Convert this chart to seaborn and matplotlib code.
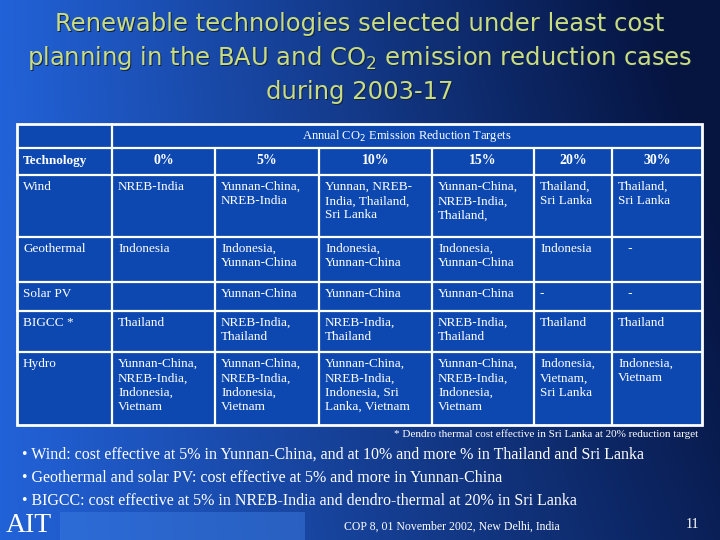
import numpy as np
import matplotlib
matplotlib.use("Agg")
import matplotlib.pyplot as plt
import seaborn as sns
from matplotlib.patches import Rectangle

sns.set_theme(style="white")
plt.rcParams['font.family'] = ['Liberation Serif', 'DejaVu Serif']

title_lines = ["Renewable technologies selected under least cost",
               "planning in the BAU and CO$_2$ emission reduction cases",
               "during 2003-17"]
header_top = "Annual CO$_2$ Emission Reduction Targets"
columns = ["Technology", "0%", "5%", "10%", "15%", "20%", "30%"]
technologies = ["Wind", "Geothermal", "Solar PV", "BIGCC *", "Hydro"]
cells = [
    ["NREB-India", "Yunnan-China,\nNREB-India", "Yunnan, NREB-\nIndia, Thailand,\nSri Lanka",
     "Yunnan-China,\nNREB-India,\nThailand,", "Thailand,\nSri Lanka", "Thailand,\nSri Lanka"],
    ["Indonesia", "Indonesia,\nYunnan-China", "Indonesia,\nYunnan-China", "Indonesia,\nYunnan-China",
     "Indonesia", "   -"],
    ["", "Yunnan-China", "Yunnan-China", "Yunnan-China", "-", "   -"],
    ["Thailand", "NREB-India,\nThailand", "NREB-India,\nThailand", "NREB-India,\nThailand",
     "Thailand", "Thailand"],
    ["Yunnan-China,\nNREB-India,\nIndonesia,\nVietnam", "Yunnan-China,\nNREB-India,\nIndonesia,\nVietnam",
     "Yunnan-China,\nNREB-India,\nIndonesia, Sri\nLanka, Vietnam", "Yunnan-China,\nNREB-India,\nIndonesia,\nVietnam",
     "Indonesia,\nVietnam,\nSri Lanka", "Indonesia,\nVietnam"],
]
footnote = "* Dendro thermal cost effective in Sri Lanka at 20% reduction target"
bullets = ["• Wind: cost effective at 5% in Yunnan-China, and at 10% and more % in Thailand and Sri Lanka",
           "• Geothermal and solar PV: cost effective at 5% and more in Yunnan-China",
           "• BIGCC: cost effective at 5% in NREB-India and dendro-thermal at 20% in Sri Lanka"]
footer = "COP 8, 01 November 2002, New Delhi, India"
page = "11"

fig = plt.figure(figsize=(7.2, 5.4), dpi=100)
ax = fig.add_axes([0, 0, 1, 1])
ax.set_xlim(0, 720); ax.set_ylim(540, 0); ax.axis("off")

x = np.linspace(0, 1, 256)
y = np.linspace(0, 1, 256)
X, Y = np.meshgrid(x, y)
t = np.clip(X * 0.85 + (1 - Y) * 0.25 * X, 0, 1)
c0 = np.array([0x22, 0x62, 0xd8]) / 255
c1 = np.array([0x06, 0x14, 0x40]) / 255
img = c0[None, None, :] * (1 - t[..., None]) + c1[None, None, :] * t[..., None]
ax.imshow(img, extent=[0, 720, 540, 0], aspect="auto", zorder=0)

tc = "#c8dc80"
for i, ln in enumerate(title_lines):
    ax.text(361, 25 + i * 34, ln, ha="center", va="center", color="#10204a", fontsize=17.5,
            family=["DejaVu Sans"])
    ax.text(360, 24 + i * 34, ln, ha="center", va="center", color=tc, fontsize=17.5,
            family=["DejaVu Sans"])

colx = [17, 112, 215, 319, 432, 534, 612, 702]
rowy = [124, 148, 175, 237, 282, 311, 352, 425]
ax.add_patch(Rectangle((colx[0], rowy[0]), colx[-1] - colx[0], rowy[-1] - rowy[0],
                       facecolor="#0c48b0", edgecolor="white", lw=2, zorder=1))
lw = 1.6
for yy in rowy[1:-1]:
    ax.plot([colx[0], colx[-1]], [yy, yy], color="white", lw=lw, zorder=2)
ax.plot([colx[1], colx[1]], [rowy[0], rowy[-1]], color="white", lw=lw, zorder=2)
for xx in colx[2:-1]:
    ax.plot([xx, xx], [rowy[1], rowy[-1]], color="white", lw=lw, zorder=2)

ax.text((colx[1] + colx[-1]) / 2, 136, header_top, ha="center", va="center", color="white", fontsize=9)
for j, c in enumerate(columns):
    if j == 0:
        ax.text(colx[0] + 6, 161, c, ha="left", va="center", color="white", fontsize=9.5, weight="bold")
    else:
        ax.text((colx[j] + colx[j + 1]) / 2, 161, c, ha="center", va="center", color="white",
                fontsize=10, weight="bold")
for i, tech in enumerate(technologies):
    top = rowy[i + 2]
    ax.text(colx[0] + 6, top + 6, tech, ha="left", va="top", color="white", fontsize=9.5)
    for j, val in enumerate(cells[i]):
        ax.text(colx[j + 1] + 6, top + 6, val, ha="left", va="top", color="white",
                fontsize=9.5, linespacing=1.25)

ax.text(698, 434, footnote, ha="right", va="center", color="white", fontsize=8)
for i, b in enumerate(bullets):
    ax.text(22, 455 + i * 23, b, ha="left", va="center", color="white", fontsize=11.5)

ax.add_patch(Rectangle((60, 512), 245, 28, facecolor="#3a7ae0", edgecolor="none", alpha=0.5, zorder=1))
ax.text(6, 525, "AIT", ha="left", va="center", color="white", fontsize=20)
ax.text(452, 527, footer, ha="center", va="center", color="white", fontsize=8.5)
ax.text(692, 525, page, ha="center", va="center", color="white", fontsize=10)

fig.savefig("out.png", dpi=100)
